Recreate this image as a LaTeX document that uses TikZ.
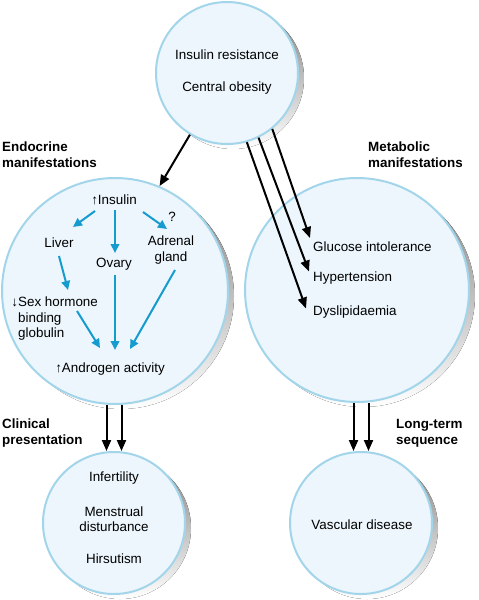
\documentclass[tikz,border=0pt]{standalone}
\usepackage{fontspec}
\setmainfont{Liberation Sans}
\usetikzlibrary{arrows.meta,calc}
\definecolor{rim}{RGB}{163,213,234}
\definecolor{disc}{RGB}{236,246,252}
\definecolor{shade}{RGB}{218,218,218}
\definecolor{cyanarrow}{RGB}{22,155,207}
\begin{document}
\begin{tikzpicture}[x=1pt,y=-1pt,font=\fontsize{13.4}{15.5}\selectfont,
bubble/.style={circle,draw=rim,fill=disc,line width=2pt,inner sep=0pt,minimum size=#1},
txt/.style={inner sep=2pt,align=center},
head/.style={font=\bfseries\fontsize{13.4}{16}\selectfont,align=left,anchor=west,inner sep=0pt},
karrow/.style={-{Triangle[length=11pt,width=9pt]},line width=2pt},
barrow/.style={-{Triangle[length=9pt,width=8.5pt]},line width=2pt,draw=cyanarrow}]
\useasboundingbox (0,0) rectangle (479,600);
\foreach \n/\x/\y/\d in {top/227/73/142,endo/115/291/226,meta/357/290/224,clin/114/523/142,vasc/361/523/142}{
\fill[shade] (\x+6,\y+5) circle[radius=\d/2*1pt];\node[bubble=\d pt] (\n) at (\x,\y){};}
\node[txt] (resist) at (227,55){Insulin resistance};\node[txt] (obese) at (227,88){Central obesity};
\node[head] (endolab) at (2,155){Endocrine\\manifestations};\node[head] (metalab) at (368,155){Metabolic\\manifestations};
\node[head] (clinlab) at (2,433){Clinical\\presentation};\node[head] (longlab) at (396,433){Long-term\\sequence};
\node[txt] (insulin) at (114,200){↑Insulin};\node[txt] (query) at (172,217){?};
\node[txt] (liver) at (59,243){Liver};\node[txt] (ovary) at (114,264){Ovary};
\node[txt] (adrenal) at (171,250){Adrenal\\gland};
\node[txt,align=left,anchor=west] (shbg) at (16,319){\llap{↓}Sex hormone\\binding\\globulin};
\node[txt] (androgen) at (110,369){↑Androgen activity};
\node[txt,anchor=west] (gluc) at (311,247){Glucose intolerance};
\node[txt,anchor=west] (hyper) at (311,278){Hypertension};
\node[txt,anchor=west] (dysl) at (311,312){Dyslipidaemia};
\node[txt] (infert) at (114,478){Infertility};\node[txt] (mens) at (114,519){Menstrual\\disturbance};
\node[txt] (hirs) at (114,559){Hirsutism};\node[txt] (vascdis) at (362,525){Vascular disease};
\draw[karrow] (top.-121) -- (endo.67);
\foreach \a/\t/\s in {-51/gluc/{-1,-9},-64/hyper/{-2,-6.5},-74/dysl/{-5,-3.5}}{
\draw[karrow] (top.\a) -- ($(\t.west)+(\s)$);}
\draw[barrow] ($(insulin)+(-19,11)$) -- ($(liver)+(14,-16)$);
\draw[barrow] ($(insulin)+(1,10)$) -- ($(ovary)+(1,-11)$);
\draw[barrow] ($(insulin)+(29,12)$) -- ($(adrenal)+(-4,-21)$);
\draw[barrow] ($(liver)+(0,13)$) -- ($(shbg.west)+(52,-29)$);
\draw[barrow] ($(shbg.west)+(61,-8)$) -- ($(androgen)+(-10,-21)$);
\draw[barrow] ($(ovary)+(1,11)$) -- ($(androgen)+(5,-19)$);
\draw[barrow] ($(adrenal)+(4,20)$) -- ($(androgen)+(20,-20)$);
\foreach \dx in {-7.5,7.5}{
\draw[karrow] ($(clin.north|-endo.south)+(\dx,0)$) -- ($(clin.north)+(\dx,0)$);
\draw[karrow] ($(vasc.north|-meta.south)+(\dx,0)$) -- ($(vasc.north)+(\dx,0)$);}
\end{tikzpicture}
\end{document}
